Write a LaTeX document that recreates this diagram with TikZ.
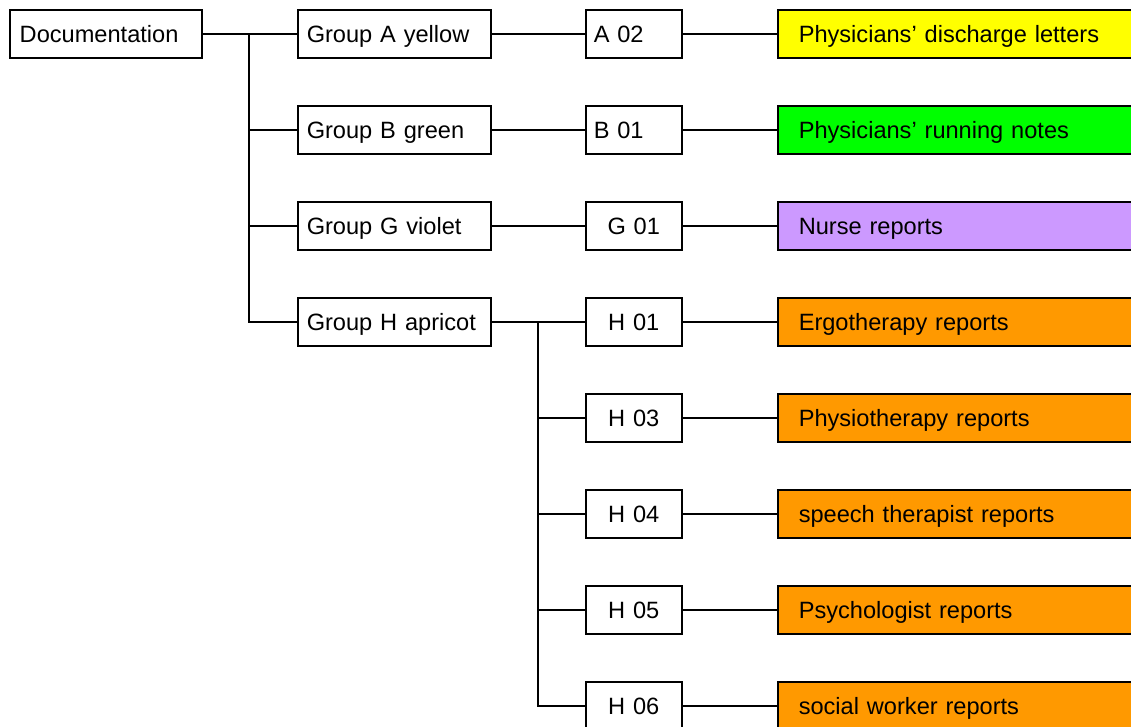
\documentclass[tikz,border=0pt]{standalone}
\usepackage{fontspec}
\setmainfont{Liberation Sans}
\begin{document}
\begin{tikzpicture}[x=1pt,y=1pt,
  line width=1.5pt,
  every node/.style={font=\fontsize{23.6}{28}\selectfont},
  box/.style={draw=black, line width=1.5pt, minimum height=48pt, inner ysep=0pt,
    text height=21.5pt, text depth=4.5pt, anchor=west},
  docbox/.style={box, inner xsep=10pt, text width=172pt, align=left},
  groupbox/.style={box, inner xsep=9pt, text width=175pt, align=left},
  codebox/.style={box, inner xsep=8pt, text width=80pt, align=left},
  codecbox/.style={box, inner xsep=4pt, text width=88pt, align=center},
  leafbox/.style={box, inner xsep=21pt, text width=322pt, align=left},
  link/.style={draw=black, line width=1.5pt}]
\useasboundingbox (0,0) rectangle (1131,-726);
\clip (0,0) rectangle (1131,-726);

% root
\node[docbox] (doc) at (9,-34) {Documentation};

% groups
\node[groupbox] (ga) at (297,-34)  {Group A yellow};
\node[groupbox] (gb) at (297,-130) {Group B green};
\node[groupbox] (gg) at (297,-226) {Group G violet};
\node[groupbox] (gh) at (297,-322) {Group H apricot};

% document codes
\node[codebox]  (a02) at (585,-34)  {A 02};
\node[codebox]  (b01) at (585,-130) {B 01};
\node[codecbox] (g01) at (585,-226) {G 01};
\node[codecbox] (h01) at (585,-322) {H 01};
\node[codecbox] (h03) at (585,-418) {H 03};
\node[codecbox] (h04) at (585,-514) {H 04};
\node[codecbox] (h05) at (585,-610) {H 05};
\node[codecbox] (h06) at (585,-706) {H 06};

% document types
\node[leafbox, fill={rgb,255:red,255;green,255;blue,0}] (la) at (777,-34)  {Physicians’ discharge letters};
\node[leafbox, fill={rgb,255:red,0;green,255;blue,0}]   (lb) at (777,-130) {Physicians’ running notes};
\node[leafbox, fill={rgb,255:red,204;green,153;blue,255}] (lg) at (777,-226) {Nurse reports};
\node[leafbox, fill={rgb,255:red,255;green,153;blue,0}] (l1) at (777,-322) {Ergotherapy reports};
\node[leafbox, fill={rgb,255:red,255;green,153;blue,0}] (l3) at (777,-418) {Physiotherapy reports};
\node[leafbox, fill={rgb,255:red,255;green,153;blue,0}] (l4) at (777,-514) {speech therapist reports};
\node[leafbox, fill={rgb,255:red,255;green,153;blue,0}] (l5) at (777,-610) {Psychologist reports};
\node[leafbox, fill={rgb,255:red,255;green,153;blue,0}] (l6) at (777,-706) {social worker reports};

% trunk junctions
\coordinate (t1) at (249,-34);
\coordinate (t2) at (538,-322);

% root to groups
\draw[link] (doc.east) -- (ga.west);
\draw[link] (t1) |- (gb.west);
\draw[link] (t1) |- (gg.west);
\draw[link] (t1) |- (gh.west);

% groups to codes
\draw[link] (ga.east) -- (a02.west);
\draw[link] (gb.east) -- (b01.west);
\draw[link] (gg.east) -- (g01.west);
\draw[link] (gh.east) -- (h01.west);
\draw[link] (t2) |- (h03.west);
\draw[link] (t2) |- (h04.west);
\draw[link] (t2) |- (h05.west);
\draw[link] (t2) |- (h06.west);

% codes to document types
\draw[link] (a02.east) -- (la.west);
\draw[link] (b01.east) -- (lb.west);
\draw[link] (g01.east) -- (lg.west);
\draw[link] (h01.east) -- (l1.west);
\draw[link] (h03.east) -- (l3.west);
\draw[link] (h04.east) -- (l4.west);
\draw[link] (h05.east) -- (l5.west);
\draw[link] (h06.east) -- (l6.west);
\end{tikzpicture}
\end{document}
